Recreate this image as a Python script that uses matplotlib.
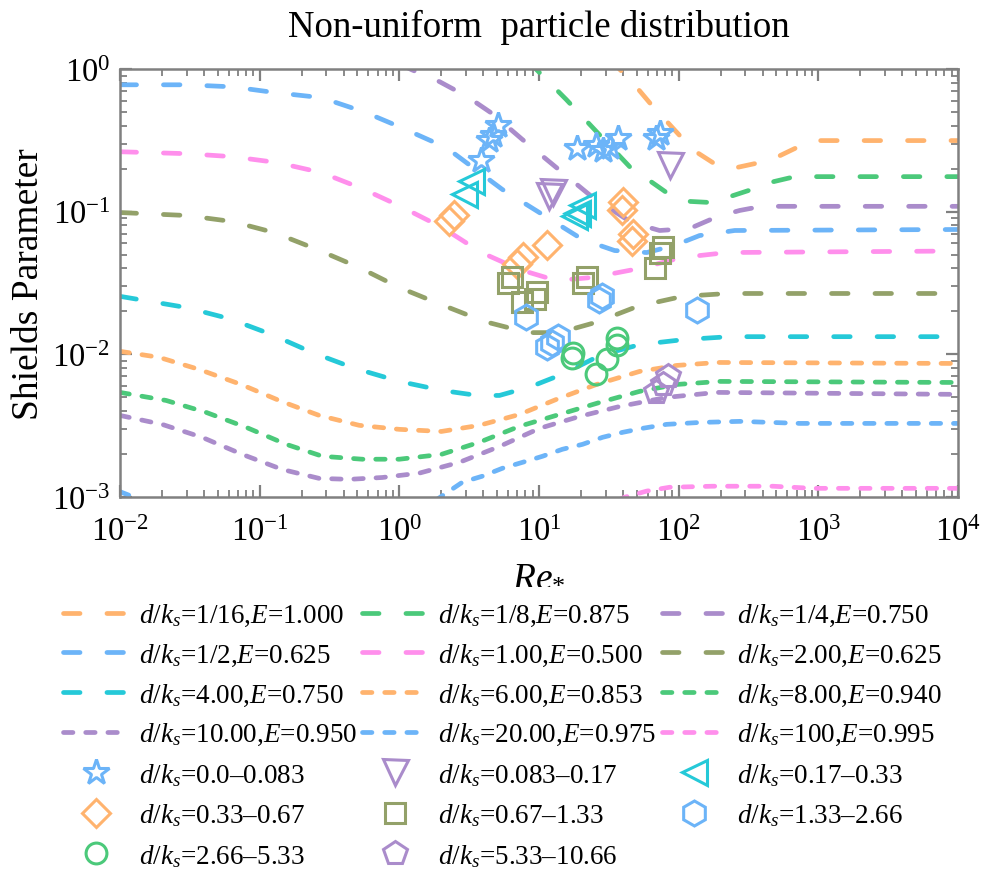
import numpy as np
import matplotlib.pyplot as plt
from matplotlib.ticker import LogLocator, LogFormatterMathtext, NullFormatter

plt.rcParams["font.family"] = ["Liberation Serif", "DejaVu Serif"]
plt.rcParams["mathtext.fontset"] = "custom"
plt.rcParams["mathtext.rm"] = "Liberation Serif"
plt.rcParams["mathtext.it"] = "Liberation Serif:italic"
plt.rcParams["mathtext.bf"] = "Liberation Serif:bold"

# threshold curves, Re* vs Shields parameter
re_c1 = [32, 38, 47, 62, 77, 126, 190, 261, 381, 513, 775, 1026, 10000]
th_c1 = [1.18, 0.99, 0.80, 0.58, 0.46, 0.272, 0.210, 0.204, 0.221, 0.243, 0.295, 0.315, 0.315]

re_c2 = [8.3, 9.6, 15.7, 25.8, 44.5, 82, 120, 167, 224, 333, 449, 679, 10000]
th_c2 = [1.14, 0.99, 0.61, 0.364, 0.207, 0.136, 0.118, 0.116, 0.126, 0.143, 0.160, 0.176, 0.176]

re_c3 = [1.0, 1.22, 1.94, 3.07, 4.64, 7.62, 13.3, 24.2, 46, 73, 120, 190, 274, 393, 10000]
th_c3 = [1.09, 0.99, 0.815, 0.64, 0.486, 0.32, 0.204, 0.126, 0.084, 0.0738, 0.0762, 0.0925, 0.102, 0.109, 0.109]

re_c4 = [0.01, 0.030, 0.0636, 0.131, 0.276, 0.561, 1.0, 2.17, 5.47, 10.6, 20.5, 34.8, 59, 93.6, 141, 252, 10000]
th_c4 = [0.775, 0.775, 0.75, 0.682, 0.63, 0.50, 0.394, 0.281, 0.143, 0.0955, 0.0638, 0.0534, 0.0517, 0.058, 0.068, 0.0738, 0.075]

re_c5 = [0.01, 0.030, 0.0636, 0.133, 0.276, 0.543, 1.0, 2.03, 3.87, 7.25, 13.3, 24.2, 52.5, 105, 221, 10000]
th_c5 = [0.263, 0.255, 0.243, 0.221, 0.188, 0.145, 0.110, 0.0774, 0.0517, 0.0393, 0.0329, 0.0346, 0.040, 0.0477, 0.0517, 0.053]

re_c6 = [0.01, 0.030, 0.0636, 0.127, 0.258, 0.516, 1.0, 2.0, 4.06, 8.28, 14.0, 25.8, 50.8, 107, 224, 10000]
th_c6 = [0.0986, 0.094, 0.0853, 0.0714, 0.0543, 0.0406, 0.0294, 0.0223, 0.0170, 0.0142, 0.0142, 0.0168, 0.0217, 0.0255, 0.0267, 0.0267]

re_c7 = [0.01, 0.0297, 0.0604, 0.121, 0.238, 0.475, 1.0, 2.03, 3.62, 5.21, 8.83, 15.2, 27.2, 52.5, 110, 232, 10000]
th_c7 = [0.0255, 0.0213, 0.0178, 0.0138, 0.0103, 0.0080, 0.00646, 0.00558, 0.00515, 0.00515, 0.00596, 0.00735, 0.0098, 0.0117, 0.0127, 0.0133, 0.0133]

re_c8 = [0.01, 0.019, 0.0368, 0.0736, 0.143, 0.267, 0.516, 1.0, 2.0, 3.74, 7.25, 13.3, 25.8, 52.5, 96.8, 190, 10000]
th_c8 = [0.0105, 0.00953, 0.00784, 0.00615, 0.00468, 0.00373, 0.00318, 0.00298, 0.00288, 0.00318, 0.00379, 0.00483, 0.00615, 0.00759, 0.00836, 0.00877, 0.00863]

re_c9 = [0.01, 0.0214, 0.0413, 0.080, 0.155, 0.281, 0.543, 1.0, 2.0, 3.74, 7.25, 14.0, 27.2, 52.5, 96.8, 197, 10000]
th_c9 = [0.00541, 0.00475, 0.00392, 0.00308, 0.00234, 0.00193, 0.00184, 0.00184, 0.00199, 0.00242, 0.00313, 0.00379, 0.0046, 0.0055, 0.00615, 0.00646, 0.00635]

re_c10 = [0.01, 0.020, 0.0387, 0.075, 0.145, 0.267, 0.439, 0.755, 1.39, 2.69, 5.21, 10.1, 19.5, 37.8, 82, 187, 10000]
th_c10 = [0.00373, 0.00323, 0.00262, 0.00199, 0.00156, 0.00135, 0.00133, 0.00137, 0.00147, 0.00175, 0.00226, 0.00303, 0.00367, 0.00431, 0.00499, 0.00541, 0.00524]

re_c11 = [0.01, 0.0125, 0.03, 0.15, 0.6, 1.3, 2.0, 2.83, 3.94, 5.47, 7.62, 10.6, 14.7, 20.5, 28.5, 39.7, 55.2, 82, 141, 274, 736, 10000]
th_c11 = [0.00109, 0.00100, 0.00075, 0.0005, 0.0005, 0.00075, 0.00101, 0.00127, 0.0014, 0.00159, 0.00175, 0.00193, 0.00216, 0.00234, 0.00262, 0.00284, 0.00303, 0.00323, 0.00333, 0.00339, 0.00328, 0.00328]

re_c12 = [10, 25, 41, 59, 86, 175, 472, 914, 10000]
th_c12 = [0.0005, 0.0008, 0.000996, 0.0011, 0.00117, 0.00119, 0.00119, 0.00115, 0.00115]

curve_labels = [
    r"$d/k_s$=1/16,$E$=1.000", r"$d/k_s$=1/8,$E$=0.875", r"$d/k_s$=1/4,$E$=0.750",
    r"$d/k_s$=1/2,$E$=0.625", r"$d/k_s$=1.00,$E$=0.500", r"$d/k_s$=2.00,$E$=0.625",
    r"$d/k_s$=4.00,$E$=0.750", r"$d/k_s$=6.00,$E$=0.853", r"$d/k_s$=8.00,$E$=0.940",
    r"$d/k_s$=10.00,$E$=0.950", r"$d/k_s$=20.00,$E$=0.975", r"$d/k_s$=100,$E$=0.995",
]

# measured points, grouped by d/ks range
star_re = [5.05, 4.72, 4.42, 3.87, 18.6, 25.8, 28.5, 32.0, 36.5, 73.1, 68.4]
star_th = [0.407, 0.347, 0.320, 0.232, 0.281, 0.295, 0.272, 0.286, 0.330, 0.358, 0.330]
tdown_re = [12.5, 11.7, 86.1]
tdown_th = [0.138, 0.128, 0.214]
tleft_re = [3.28, 2.92, 20.2, 18.6, 17.9]
tleft_th = [0.163, 0.132, 0.112, 0.0986, 0.0925]
diam_re = [2.48, 2.28, 11.5, 7.62, 7.01, 39.7, 39.0, 46.8, 46.0]
diam_th = [0.0955, 0.0867, 0.058, 0.0485, 0.0433, 0.116, 0.102, 0.0692, 0.0618]
sq_re = [6.46, 5.95, 9.75, 9.29, 7.50, 21.9, 20.5, 76.7, 73.1, 67.3]
sq_th = [0.0346, 0.0314, 0.0275, 0.0246, 0.0234, 0.0346, 0.0314, 0.0561, 0.0517, 0.0406]
hex_re = [28.1, 26.7, 8.13, 13.6, 12.3, 11.5, 134.6]
hex_th = [0.0258, 0.0242, 0.0184, 0.0133, 0.0121, 0.0113, 0.0206]
circ_re = [17.4, 17.1, 36.0, 36.0, 30.5, 25.8]
circ_th = [0.0103, 0.00935, 0.0131, 0.0117, 0.0092, 0.00723]
pent_re = [83.4, 76.7, 68.4]
pent_th = [0.0070, 0.00615, 0.00541]

marker_labels = [
    r"$d/k_s$=0.0–0.083", r"$d/k_s$=0.083–0.17", r"$d/k_s$=0.17–0.33",
    r"$d/k_s$=0.33–0.67", r"$d/k_s$=0.67–1.33", r"$d/k_s$=1.33–2.66",
    r"$d/k_s$=2.66–5.33", r"$d/k_s$=5.33–10.66",
]

x_ticks = [1e-2, 1e-1, 1e0, 1e1, 1e2, 1e3, 1e4]
y_ticks = [1e-3, 1e-2, 1e-1, 1e0]

orange = "#FFB36E"
green = "#4BC97A"
purple = "#AA8CCB"
blue = "#6CB4F8"
pink = "#FF8FEC"
olive = "#93A169"
cyan = "#25C9D8"
gray = "#808080"

long_dash = (3.5, 5.7)
short_dash = (2.0, 2.7)

curves = [
    (re_c1, th_c1, orange, long_dash), (re_c2, th_c2, green, long_dash),
    (re_c3, th_c3, purple, long_dash), (re_c4, th_c4, blue, long_dash),
    (re_c5, th_c5, pink, long_dash), (re_c6, th_c6, olive, long_dash),
    (re_c7, th_c7, cyan, long_dash), (re_c8, th_c8, orange, short_dash),
    (re_c9, th_c9, green, short_dash), (re_c10, th_c10, purple, short_dash),
    (re_c11, th_c11, blue, short_dash), (re_c12, th_c12, pink, short_dash),
]

groups = [
    (star_re, star_th, "*", blue, 19), (tdown_re, tdown_th, "v", purple, 18),
    (tleft_re, tleft_th, "<", cyan, 18), (diam_re, diam_th, "D", orange, 14.5),
    (sq_re, sq_th, "s", olive, 14), (hex_re, hex_th, "h", blue, 18),
    (circ_re, circ_th, "o", green, 15), (pent_re, pent_th, "p", purple, 18),
]

fig = plt.figure(figsize=(9.9, 8.7), dpi=100)
ax = fig.add_axes([120 / 990, 1 - 498 / 870, 838 / 990, 428 / 870])

line_handles = []
for (x, y, c, d), lab in zip(curves, curve_labels):
    ln, = ax.plot(x, y, color=c, lw=3.4, dashes=d, dash_capstyle="round", label=lab)
    line_handles.append(ln)

marker_handles = []
for (x, y, m, c, s), lab in zip(groups, marker_labels):
    mk, = ax.plot(x, y, ls="none", marker=m, ms=s, mfc="none", mec=c, mew=2.2, label=lab)
    marker_handles.append(mk)

ax.set_xscale("log")
ax.set_yscale("log")
ax.set_xticks(x_ticks)
ax.set_yticks(y_ticks)
ax.set_xlim(1e-2, 1e4)
ax.set_ylim(1e-3, 1e0)
for axis in (ax.xaxis, ax.yaxis):
    axis.set_minor_locator(LogLocator(base=10, subs=np.arange(2, 10), numticks=12))
    axis.set_major_formatter(LogFormatterMathtext())
    axis.set_minor_formatter(NullFormatter())

ax.tick_params(which="both", direction="in", top=True, right=True, color=gray)
ax.tick_params(which="major", length=8.5, width=1.6, labelsize=23.5, pad=7)
ax.tick_params(axis="x", which="major", pad=14)
ax.tick_params(which="minor", length=5, width=1.3)
for sp in ax.spines.values():
    sp.set_color(gray)
    sp.set_linewidth(1.8)

ax.set_xlabel(r"$Re_{*}$", fontsize=27, labelpad=7)
ax.set_ylabel("Shields Parameter", fontsize=27, labelpad=4)
ax.set_title("Non-uniform  particle distribution", fontsize=26.5, pad=24)

# legend laid out row by row in three columns
cols = [
    [line_handles[0], line_handles[3], line_handles[6], line_handles[9],
     marker_handles[0], marker_handles[3], marker_handles[6]],
    [line_handles[1], line_handles[4], line_handles[7], line_handles[10],
     marker_handles[1], marker_handles[4], marker_handles[7]],
    [line_handles[2], line_handles[5], line_handles[8], line_handles[11],
     marker_handles[2], marker_handles[5]],
]
handles = [h for col in cols for h in col]
fig.legend(handles, [h.get_label() for h in handles], ncol=3, loc="upper left",
           bbox_to_anchor=(63 / 990, 1 - 603 / 870), frameon=False, fontsize=19.5,
           handlelength=2.4, handletextpad=0.4, columnspacing=0.2,
           labelspacing=0.5, borderpad=0, borderaxespad=0)

fig.savefig("out.png", dpi=100)
